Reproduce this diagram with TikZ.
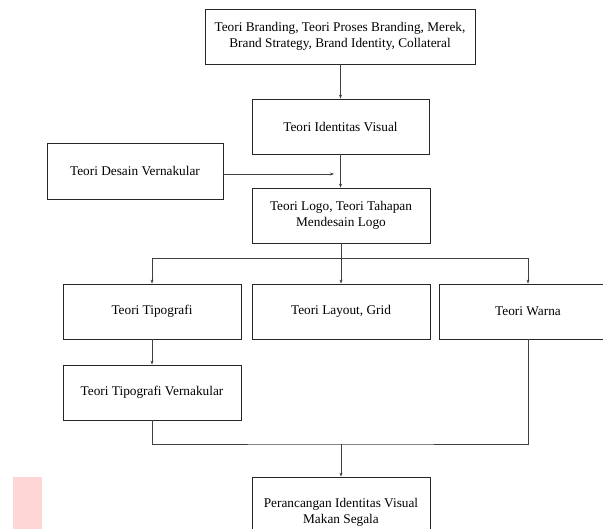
\documentclass[tikz,border=0pt]{standalone}
\usepackage{fontspec}
\setmainfont{Liberation Serif}
\usetikzlibrary{arrows.meta}
\begin{document}
\begin{tikzpicture}[x=1pt,y=-1pt,
  box/.style={draw=black!85, line width=0.8pt, rectangle, align=center,
    minimum width=178pt, minimum height=55pt, inner sep=2pt,
    font=\fontsize{13.3}{16}\selectfont},
  conn/.style={draw=black!75, line width=0.7pt},
  arr/.style={conn, -{Stealth[length=4pt,width=3pt]}}]
\clip (0,0) rectangle (603,529);
\fill[red!16] (13,477) rectangle (42,529);
\node[box, minimum width=270pt] (b1) at (340,36.5) {Teori Branding, Teori Proses Branding, Merek,\\Brand Strategy, Brand Identity, Collateral};
\node[box, minimum width=177pt] (b2) at (340.5,126.5) {Teori Identitas Visual};
\node[box, minimum width=176pt, minimum height=56pt] (desain) at (135,171) {Teori Desain Vernakular};
\node[box] (b3) at (341,215.5) {Teori Logo, Teori Tahapan\\Mendesain Logo};
\node[box] (tipo) at (152,311.5) {Teori Tipografi};
\node[box] (layout) at (341,311.5) {Teori Layout, Grid};
\node[box] (warna) at (528,311.5) {Teori Warna};
\node[box] (tipv) at (152,392.5) {Teori Tipografi Vernakular};
\node[box, minimum height=70pt] (final) at (341,512) {Perancangan Identitas Visual\\Makan Segala};
\coordinate (j1) at (334,174);
\coordinate (split) at (341,258);
\coordinate (merge) at (341,444);
\draw[arr] (b1.south -| b2.north) -- (b2.north);
\draw[arr] (desain.east |- j1) -- (j1);
\draw[arr] (b2.south) -- (b3.north -| b2.south);
\draw[conn] (b3.south) -- (split);
\draw[arr] (split) -| (tipo.north);
\draw[arr] (split) -- (layout.north);
\draw[arr] (split) -| (warna.north);
\draw[arr] (tipo.south) -- (tipv.north);
\draw[conn] (tipv.south) |- (merge) -| (warna.south);
\draw[arr] (merge) -- (final.north);
\end{tikzpicture}
\end{document}
